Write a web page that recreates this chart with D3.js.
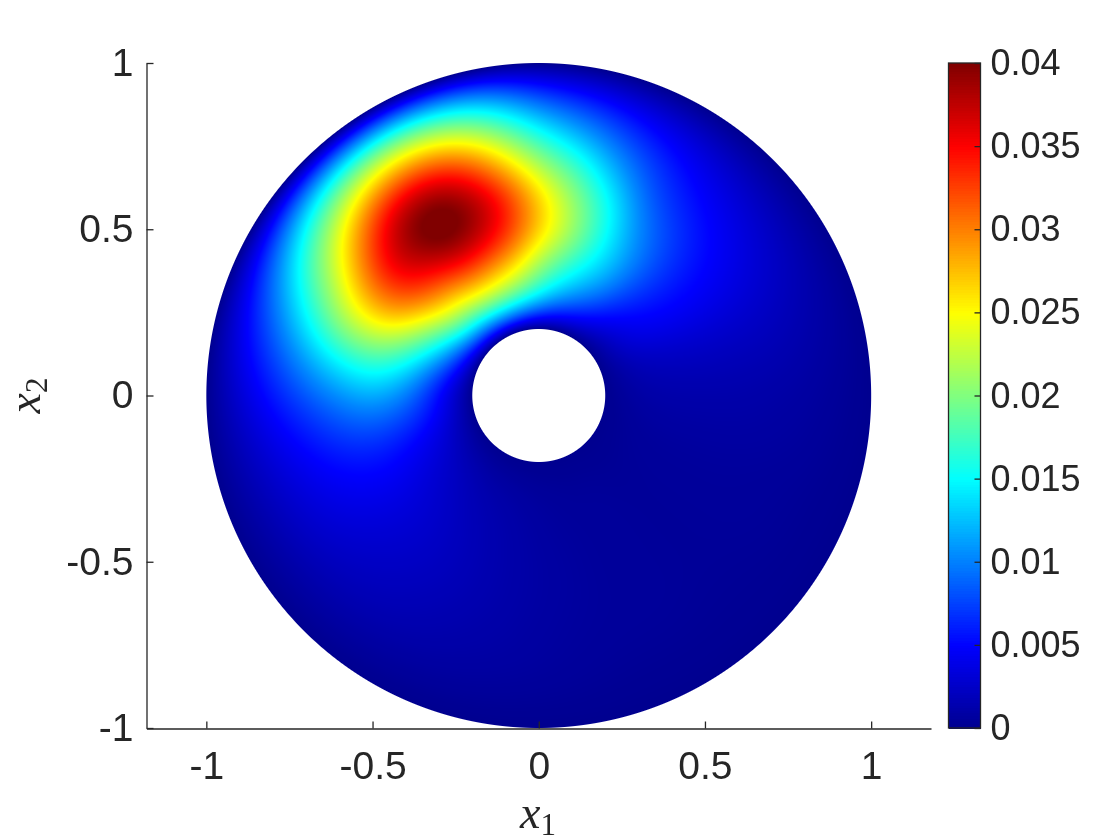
<!DOCTYPE html>
<html>
<head>
<meta charset="utf-8">
<title>Annulus field</title>
<script src="https://cdn.jsdelivr.net/npm/d3@7"></script>
<style>
  html, body { margin: 0; padding: 0; background: #fff; }
  #plot { position: relative; width: 1120px; height: 840px; overflow: hidden; }
  canvas, svg { position: absolute; left: 0; top: 0; }
  text { fill: #262626; font-family: "Liberation Sans", Arial, sans-serif; }
  .math { font-family: "Liberation Serif", serif; }
</style>
</head>
<body>
<div id="plot"></div>
<script>
const xTicks = [-1, -0.5, 0, 0.5, 1];
const yTicks = [-1, -0.5, 0, 0.5, 1];
const colorTicks = [0, 0.005, 0.01, 0.015, 0.02, 0.025, 0.03, 0.035, 0.04];
const colorTickLabels = ['0', '0.005', '0.01', '0.015', '0.02', '0.025', '0.03', '0.035', '0.04'];

// jet colormap anchors
const jetStops = [0, 0.125, 0.375, 0.625, 0.875, 1];
const jetColors = ['#00008f', '#0000ff', '#00ffff', '#ffff00', '#ff0000', '#800000'];

// polar sampling of the field
const radii = [0.2, 0.3, 0.4, 0.5, 0.6, 0.7, 0.8, 0.9, 1];
const angles = d3.range(0, 360, 10);
// one row per angle, one column per radius
const field = [
  [0, 0.0010, 0.0012, 0.0012, 0.0012, 0.0010, 0.0008, 0.0004, 0], // 0
  [0, 0.0014, 0.0017, 0.0018, 0.0017, 0.0016, 0.0012, 0.0007, 0],
  [0, 0.0020, 0.0026, 0.0028, 0.0027, 0.0024, 0.0018, 0.0010, 0],
  [0, 0.0030, 0.0042, 0.0045, 0.0042, 0.0035, 0.0026, 0.0014, 0],
  [0, 0.0037, 0.0056, 0.0060, 0.0056, 0.0047, 0.0034, 0.0018, 0],
  [0, 0.0052, 0.0080, 0.0086, 0.0076, 0.0060, 0.0043, 0.0024, 0], // 50
  [0, 0.0075, 0.0118, 0.0122, 0.0102, 0.0076, 0.0058, 0.0034, 0],
  [0, 0.0100, 0.0148, 0.0168, 0.0158, 0.0118, 0.0080, 0.0045, 0],
  [0, 0.0125, 0.0180, 0.0225, 0.0210, 0.0168, 0.0112, 0.0060, 0],
  [0, 0.0155, 0.0220, 0.0275, 0.0270, 0.0210, 0.0145, 0.0075, 0],
  [0, 0.0180, 0.0265, 0.0335, 0.0345, 0.0285, 0.0208, 0.0120, 0], // 100
  [0, 0.0195, 0.0290, 0.0375, 0.0400, 0.0355, 0.0265, 0.0152, 0],
  [0, 0.0195, 0.0300, 0.0390, 0.0430, 0.0385, 0.0288, 0.0170, 0],
  [0, 0.0185, 0.0285, 0.0365, 0.0400, 0.0365, 0.0272, 0.0162, 0],
  [0, 0.0170, 0.0270, 0.0340, 0.0355, 0.0300, 0.0225, 0.0135, 0],
  [0, 0.0135, 0.0225, 0.0295, 0.0285, 0.0230, 0.0175, 0.0095, 0], // 150
  [0, 0.0100, 0.0178, 0.0225, 0.0220, 0.0175, 0.0120, 0.0063, 0],
  [0, 0.0070, 0.0135, 0.0165, 0.0152, 0.0120, 0.0082, 0.0045, 0],
  [0, 0.0052, 0.0102, 0.0122, 0.0105, 0.0082, 0.0057, 0.0030, 0],
  [0, 0.0046, 0.0076, 0.0086, 0.0076, 0.0058, 0.0040, 0.0020, 0],
  [0, 0.0035, 0.0052, 0.0060, 0.0055, 0.0044, 0.0030, 0.0015, 0], // 200
  [0, 0.0027, 0.0038, 0.0045, 0.0042, 0.0035, 0.0025, 0.0012, 0],
  [0, 0.0020, 0.0029, 0.0034, 0.0032, 0.0027, 0.0020, 0.0010, 0],
  [0, 0.0016, 0.0023, 0.0027, 0.0026, 0.0022, 0.0017, 0.0009, 0],
  [0, 0.0012, 0.0018, 0.0021, 0.0021, 0.0018, 0.0014, 0.0007, 0],
  [0, 0.0010, 0.0014, 0.0016, 0.0016, 0.0014, 0.0011, 0.0006, 0], // 250
  [0, 0.0008, 0.0011, 0.0012, 0.0012, 0.0011, 0.0009, 0.0005, 0],
  [0, 0.0006, 0.0008, 0.0009, 0.0009, 0.0008, 0.0007, 0.0004, 0],
  [0, 0.0005, 0.0006, 0.0007, 0.0007, 0.0006, 0.0005, 0.0003, 0],
  [0, 0.0004, 0.0005, 0.0005, 0.0005, 0.0005, 0.0004, 0.0002, 0],
  [0, 0.0004, 0.0005, 0.0005, 0.0005, 0.0005, 0.0004, 0.0002, 0], // 300
  [0, 0.0003, 0.0004, 0.0004, 0.0004, 0.0004, 0.0003, 0.0002, 0],
  [0, 0.0003, 0.0004, 0.0004, 0.0004, 0.0004, 0.0003, 0.0002, 0],
  [0, 0.0004, 0.0005, 0.0005, 0.0005, 0.0005, 0.0004, 0.0002, 0],
  [0, 0.0005, 0.0006, 0.0006, 0.0006, 0.0005, 0.0004, 0.0002, 0],
  [0, 0.0007, 0.0009, 0.0009, 0.0009, 0.0008, 0.0006, 0.0003, 0]
];

const width = 1120;
const height = 840;

const xScale = d3.scaleLinear().domain([-1.18, 1.18]).range([146.5, 931]);
const yScale = d3.scaleLinear().domain([-1, 1]).range([728, 63]);
const colorPos = d3.scaleLinear().domain([0, 0.04]).range([728, 63]);
const jet = d3.scaleLinear().domain(jetStops.map(t => t * 0.04)).range(jetColors).clamp(true);

// shading interp between the sampled nodes, spline keeps contours round
function spline(p0, p1, p2, p3, t) {
  const s = 1 - t;
  return (s * s * s * p0 + (3 * t * t * t - 6 * t * t + 4) * p1
    + (-3 * t * t * t + 3 * t * t + 3 * t + 1) * p2 + t * t * t * p3) / 6;
}
function radial(row, u) {
  const last = radii.length - 1;
  const i = Math.min(Math.floor(u), last - 1);
  // mirror past the rims so the field still ends at zero there
  const at = k => k < 0 ? -row[-k] : k > last ? -row[2 * last - k] : row[k];
  return spline(at(i - 1), at(i), at(i + 1), at(i + 2), u - i);
}
function sample(r, deg) {
  const u = (r - radii[0]) / (radii[1] - radii[0]);
  const n = angles.length;
  const step = angles[1] - angles[0];
  const v = ((deg % 360) + 360) % 360 / step;
  const j = Math.floor(v);
  const vals = [-1, 0, 1, 2].map(k => radial(field[(j + k + n) % n], u));
  return Math.max(0, Math.min(0.04, spline(vals[0], vals[1], vals[2], vals[3], v - j)));
}

const plot = d3.select('#plot');
const canvas = plot.append('canvas').attr('width', width).attr('height', height);
const ctx = canvas.node().getContext('2d');
const img = ctx.createImageData(width, height);
const pxPerUnit = yScale(0) - yScale(1);

// 1024 level lookup so the pixel loop stays quick
const lut = d3.range(1025).map(i => d3.rgb(jet(i / 1024 * 0.04)));

for (let py = 55; py < 735; py++) {
  for (let px = 200; px < 880; px++) {
    const x = xScale.invert(px + 0.5);
    const y = yScale.invert(py + 0.5);
    const r = Math.hypot(x, y);
    const alpha = Math.min(1, Math.max(0, (1 - r) * pxPerUnit + 0.5), Math.max(0, (r - 0.2) * pxPerUnit + 0.5));
    if (alpha <= 0) continue;
    const deg = Math.atan2(y, x) * 180 / Math.PI;
    const c = lut[Math.round(sample(Math.max(0.2, Math.min(1, r)), deg) / 0.04 * 1024)];
    const o = (py * width + px) * 4;
    img.data[o] = c.r;
    img.data[o + 1] = c.g;
    img.data[o + 2] = c.b;
    img.data[o + 3] = Math.round(alpha * 255);
  }
}
ctx.putImageData(img, 0, 0);

const svg = plot.append('svg').attr('width', width).attr('height', height);

// main axes, box off, ticks pointing in
const xAxis = svg.append('g')
  .attr('transform', `translate(0,${yScale(-1) + 0.5})`)
  .call(d3.axisBottom(xScale).tickValues(xTicks).tickSizeInner(-7).tickSizeOuter(0).tickPadding(23).tickFormat(d => String(d)));
const yAxis = svg.append('g')
  .attr('transform', `translate(${xScale.range()[0]},0)`)
  .call(d3.axisLeft(yScale).tickValues(yTicks).tickSizeInner(-7).tickSizeOuter(0).tickPadding(13).tickFormat(d => String(d)));
[xAxis, yAxis].forEach(a => {
  a.selectAll('path, line').attr('stroke', '#262626').attr('stroke-width', 1.3);
  a.selectAll('text').attr('font-size', 39).attr('fill', '#262626');
});

// colorbar
const barLeft = 948.5;
const barRight = 980.5;
const levels = d3.range(0, 256);
svg.append('g').attr('shape-rendering', 'crispEdges').selectAll('rect')
  .data(levels)
  .enter()
  .append('rect')
  .attr('x', barLeft)
  .attr('width', barRight - barLeft)
  .attr('y', d => colorPos((d + 1) / 256 * 0.04))
  .attr('height', d => colorPos(d / 256 * 0.04) - colorPos((d + 1) / 256 * 0.04) + 1)
  .attr('fill', d => jet((d + 0.5) / 256 * 0.04));
svg.append('rect')
  .attr('x', barLeft).attr('y', 63)
  .attr('width', barRight - barLeft).attr('height', 665)
  .attr('fill', 'none').attr('stroke', '#262626').attr('stroke-width', 1.3);
const cAxis = svg.append('g')
  .attr('transform', `translate(${barRight},0)`)
  .call(d3.axisRight(colorPos).tickValues(colorTicks).tickSizeInner(-6).tickSizeOuter(0).tickPadding(10)
    .tickFormat((d, i) => colorTickLabels[i]));
cAxis.select('.domain').remove();
cAxis.selectAll('line').attr('stroke', '#262626').attr('stroke-width', 1.3);
cAxis.selectAll('text').attr('font-size', 36).attr('fill', '#262626');

// axis labels
const xLabel = svg.append('text').attr('class', 'math')
  .attr('x', 538).attr('y', 828).attr('text-anchor', 'middle').attr('font-size', 46);
xLabel.append('tspan').attr('font-style', 'italic').text('x');
xLabel.append('tspan').attr('font-size', 31).attr('dy', 7).text('1');

const yLabel = svg.append('text').attr('class', 'math')
  .attr('transform', `translate(40,${yScale(0)}) rotate(-90)`)
  .attr('text-anchor', 'middle').attr('font-size', 46);
yLabel.append('tspan').attr('font-style', 'italic').text('x');
yLabel.append('tspan').attr('font-size', 31).attr('dy', 7).text('2');
</script>
</body>
</html>
